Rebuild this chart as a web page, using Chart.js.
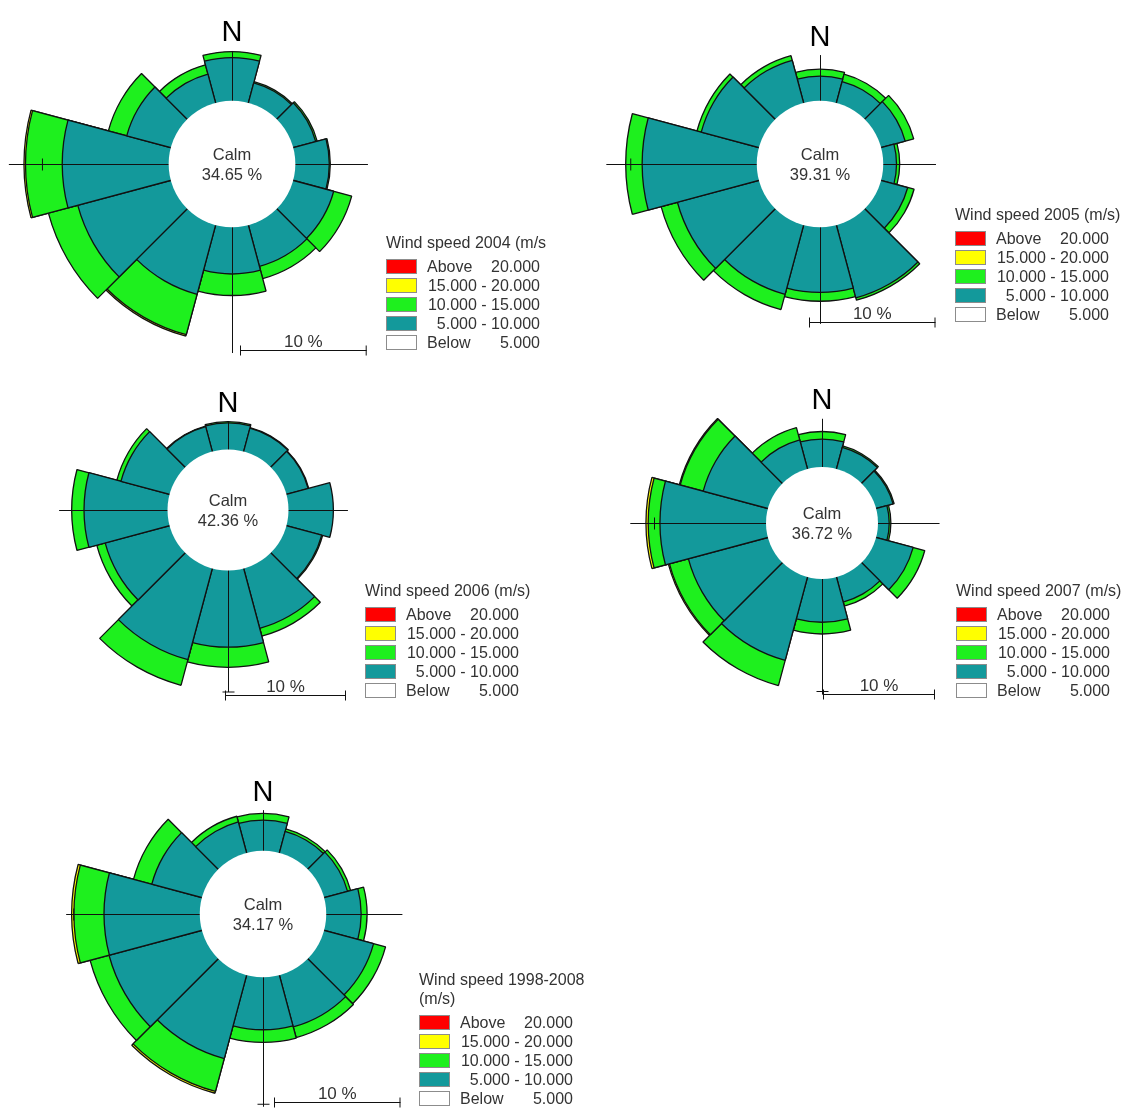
<!DOCTYPE html>
<html>
<head>
<meta charset="utf-8">
<title>Wind roses 1998-2008</title>
<script src="https://cdn.jsdelivr.net/npm/chart.js@4.4.1/dist/chart.umd.min.js"></script>
<style>
  html, body { margin: 0; padding: 0; background: #fff; }
  body {
    position: relative;
    width: 1125px;
    height: 1109px;
    overflow: hidden;
    font-family: "Liberation Sans", Arial, sans-serif;
    color: #333;
  }
  canvas { position: absolute; }
  .lg { position: absolute; font-size: 16px; line-height: 19px; white-space: nowrap; }
  .lg.right { text-align: right; }
  .box { position: absolute; width: 29px; height: 13px; border: 1px solid #8c8c8c; }
</style>
</head>
<body>
<script>
// 12 sectors of 30 degrees, clockwise from north
const directions = ['0°', '30°', '60°', '90°', '120°', '150°', '180°', '210°', '240°', '270°', '300°', '330°'];

const calm2004 = 34.65;
const speed5to10_2004 = [3.40, 1.63, 1.84, 2.68, 3.31, 3.36, 3.68, 5.65, 7.60, 8.40, 3.60, 2.35];
const speed10to15_2004 = [0.47, 0.10, 0.12, 0.08, 1.47, 1.00, 1.70, 3.30, 2.40, 2.90, 1.50, 0.75];
const speed15to20_2004 = [0, 0, 0, 0, 0, 0, 0, 0.12, 0, 0.12, 0, 0];

const calm2005 = 39.31;
const speed5to10_2005 = [1.95, 1.75, 1.97, 1.05, 2.18, 5.95, 5.15, 5.67, 6.67, 9.06, 4.72, 3.49];
const speed10to15_2005 = [0.55, 0.60, 0.70, 0.25, 0.52, 0.20, 0.70, 1.25, 1.33, 1.30, 0.35, 0.37];
const speed15to20_2005 = [0, 0, 0, 0, 0, 0, 0, 0, 0, 0, 0, 0];

const calm2006 = 42.36;
const speed5to10_2006 = [2.20, 2.00, 1.86, 3.71, 3.02, 5.12, 6.34, 7.81, 5.51, 6.90, 4.16, 2.13];
const speed10to15_2006 = [0.10, 0.05, 0.05, 0, 0.08, 0.67, 1.66, 2.19, 0.72, 1.02, 0.35, 0.05];
const speed15to20_2006 = [0, 0, 0, 0, 0, 0, 0, 0, 0, 0, 0, 0];

const calm2007 = 36.72;
const speed5to10_2007 = [2.49, 2.00, 1.57, 1.00, 3.43, 2.31, 3.86, 7.70, 7.35, 9.47, 5.98, 2.69];
const speed10to15_2007 = [0.68, 0.12, 0.10, 0.15, 1.07, 0.38, 1.05, 2.33, 1.75, 1.05, 2.13, 1.13];
const speed15to20_2007 = [0, 0, 0, 0, 0, 0, 0, 0, 0.10, 0.20, 0.08, 0];

const calmAll = 34.17;
const speed5to10_all = [2.42, 1.76, 1.92, 2.76, 4.05, 4.24, 4.15, 6.83, 7.60, 7.57, 4.10, 2.53];
const speed10to15_all = [0.53, 0.20, 0.25, 0.47, 0.98, 0.87, 1.00, 2.69, 1.55, 2.38, 1.50, 0.47];
const speed15to20_all = [0, 0, 0, 0, 0, 0, 0, 0.15, 0, 0.18, 0, 0];

// legend classes
const classLabels = [['Above', '20.000'], ['', '15.000 - 20.000'], ['', '10.000 - 15.000'], ['', '5.000 - 10.000'], ['Below', '5.000']];
const classColors = ['#ff0000', '#ffff00', '#1ef01e', '#13999b', '#ffffff'];
const TEAL = '#13999b', GREEN = '#1ef01e', YELLOW = '#ffff00';

// layout of each rose: centre on the page, pixels per percent, reach of the
// compass arms (N, E, S, W in %), scale bar offset and legend placement
const roses = [
  { calm: calm2004, layers: [speed5to10_2004, speed10to15_2004, speed15to20_2004],
    cx: 232, cy: 164, ppp: 12.67, arms: [3.96, 5.69, 9.88, 12.65], bar: [8, 186],
    legend: { x: 386, row: 266, title: ['Wind speed 2004 (m/s'] } },
  { calm: calm2005, layers: [speed5to10_2005, speed10to15_2005, speed15to20_2005],
    cx: 820, cy: 164, ppp: 12.65, arms: [3.65, 4.13, 7.6, 11.93], bar: [-11, 158],
    legend: { x: 955, row: 238, title: ['Wind speed 2005 (m/s)'] } },
  { calm: calm2006, layers: [speed5to10_2006, speed10to15_2006, speed15to20_2006],
    cx: 228, cy: 510, ppp: 12.1, arms: [2.36, 4.87, 10, 9.0], bar: [-3, 185],
    legend: { x: 365, row: 614, title: ['Wind speed 2006 (m/s)'] } },
  { calm: calm2007, layers: [speed5to10_2007, speed10to15_2007, speed15to20_2007],
    cx: 822, cy: 523, ppp: 11.2, arms: [4.35, 5.45, 10.28, 12.16], bar: [1, 171],
    legend: { x: 956, row: 614, title: ['Wind speed 2007 (m/s)'] } },
  { calm: calmAll, layers: [speed5to10_all, speed10to15_all, speed15to20_all],
    cx: 263, cy: 914, ppp: 12.65, arms: [3.25, 5.98, 10.2, 10.6], bar: [11, 188],
    legend: { x: 419, row: 1022, title: ['Wind speed 1998-2008', '(m/s)'] } },
];

const HALF = 240; // half size of each canvas
const FONT = '"Liberation Sans", Arial, sans-serif';

// running totals so each class is drawn as a ring on top of the slower ones
function stack(layers) {
  const run = layers[0].map(() => 0);
  return layers.map(layer => layer.map((v, i) => {
    run[i] += v;
    return v > 0 ? +run[i].toFixed(3) : null;
  }));
}

function decor(rose) {
  return {
    id: 'roseDecor',
    afterDatasetsDraw(chart) {
      const r = chart.scales.r;
      const ctx = chart.ctx;
      const cx = r.xCenter, cy = r.yCenter;
      const dist = v => r.getDistanceFromCenterForValue(v);
      ctx.save();
      ctx.strokeStyle = '#111';
      ctx.lineWidth = 1;

      // compass arms with a mark at 10 %
      const dirs = [[0, -1], [1, 0], [0, 1], [-1, 0]];
      dirs.forEach(([ux, uy], k) => {
        const len = dist(rose.arms[k]);
        ctx.beginPath();
        ctx.moveTo(cx + 0.5, cy + 0.5);
        ctx.lineTo(cx + 0.5 + ux * len, cy + 0.5 + uy * len);
        ctx.stroke();
        if (rose.arms[k] >= 10) {
          const t = dist(10);
          const px = cx + 0.5 + ux * t, py = cy + 0.5 + uy * t;
          ctx.beginPath();
          ctx.moveTo(px - uy * 6, py - ux * 6);
          ctx.lineTo(px + uy * 6, py + ux * 6);
          ctx.stroke();
        }
      });

      // calm circle
      ctx.fillStyle = '#fff';
      ctx.beginPath();
      ctx.arc(cx, cy, dist(0), 0, Math.PI * 2);
      ctx.fill();

      ctx.fillStyle = '#333';
      ctx.textAlign = 'center';
      ctx.textBaseline = 'alphabetic';
      ctx.font = '16.5px ' + FONT;
      ctx.fillText('Calm', cx, cy - 4);
      ctx.fillText(rose.calm.toFixed(2) + ' %', cx, cy + 16);

      // north label
      ctx.fillStyle = '#000';
      ctx.font = '29px ' + FONT;
      ctx.fillText('N', cx, cy - dist(rose.arms[0]) - 9);

      // 10 % scale bar
      const x0 = cx + rose.bar[0], y0 = cy + rose.bar[1] + 0.5;
      const L = dist(10) - dist(0);
      ctx.beginPath();
      ctx.moveTo(x0, y0);
      ctx.lineTo(x0 + L, y0);
      ctx.moveTo(x0 + 0.5, y0 - 5);
      ctx.lineTo(x0 + 0.5, y0 + 5);
      ctx.moveTo(x0 + L - 0.5, y0 - 5);
      ctx.lineTo(x0 + L - 0.5, y0 + 5);
      ctx.stroke();
      ctx.fillStyle = '#333';
      ctx.font = '17px ' + FONT;
      ctx.fillText('10 %', x0 + L / 2, y0 - 4);
      ctx.restore();
    }
  };
}

function addLegend(lg) {
  const put = (text, cls, left, top, width) => {
    const d = document.createElement('div');
    d.className = cls;
    d.style.left = left + 'px';
    d.style.top = top + 'px';
    if (width) d.style.width = width + 'px';
    d.textContent = text;
    document.body.appendChild(d);
    return d;
  };
  const n = lg.title.length;
  lg.title.forEach((t, j) => put(t, 'lg', lg.x, lg.row - 23.5 - 19 * (n - 1 - j) - 9.5));
  classLabels.forEach(([a, b], k) => {
    const c = lg.row + 19 * k;
    const box = put('', 'box', lg.x, c - 7.5);
    box.style.background = classColors[k];
    if (a) put(a, 'lg', lg.x + 41, c - 9.5);
    put(b, 'lg right', lg.x + 41, c - 9.5, 113);
  });
}

roses.forEach(rose => {
  const canvas = document.createElement('canvas');
  canvas.width = HALF * 2;
  canvas.height = HALF * 2;
  canvas.style.left = (rose.cx - HALF) + 'px';
  canvas.style.top = (rose.cy - HALF) + 'px';
  document.body.appendChild(canvas);

  const stacked = stack(rose.layers);
  const colors = [TEAL, GREEN, YELLOW];

  new Chart(canvas.getContext('2d'), {
    type: 'polarArea',
    data: {
      labels: directions,
      datasets: stacked.map((data, k) => ({
        data: data,
        backgroundColor: colors[k],
        borderColor: '#111',
        borderWidth: 1.3,
      })),
    },
    options: {
      responsive: false,
      animation: false,
      events: [],
      layout: { padding: 0 },
      plugins: { legend: { display: false }, tooltip: { enabled: false } },
      scales: {
        r: {
          min: -5, // the calm circle spans the first 5 % of the radius
          max: HALF / rose.ppp - 5,
          startAngle: -15,
          grid: { display: false },
          angleLines: { display: false },
          ticks: { display: false },
          pointLabels: { display: false },
        },
      },
    },
    plugins: [decor(rose)],
  });

  addLegend(rose.legend);
});
</script>
</body>
</html>
